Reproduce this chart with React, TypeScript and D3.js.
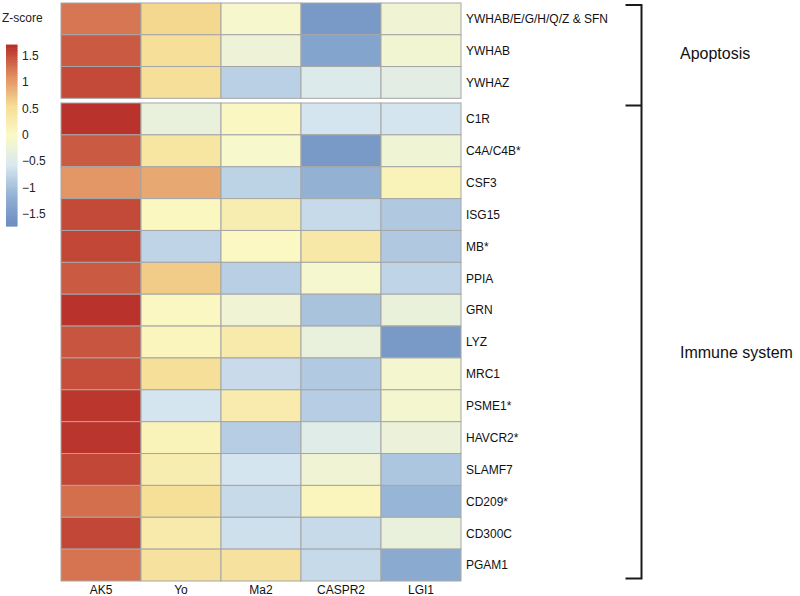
import React from "react";
import * as d3 from "d3";

const genes = [
  "YWHAB/E/G/H/Q/Z & SFN", "YWHAB", "YWHAZ",
  "C1R", "C4A/C4B*", "CSF3", "ISG15", "MB*", "PPIA", "GRN", "LYZ", "MRC1",
  "PSME1*", "HAVCR2*", "SLAMF7", "CD209*", "CD300C", "PGAM1",
];
const antibodies = ["AK5", "Yo", "Ma2", "CASPR2", "LGI1"];

const ak5Values = [1.26, 1.43, 1.53, 1.68, 1.43, 1.05, 1.53, 1.55, 1.43, 1.68, 1.46, 1.5, 1.65, 1.66, 1.55, 1.3, 1.55, 1.27];
const yoValues = [0.6, 0.5, 0.5, -0.3, 0.4, 0.93, 0.06, -0.78, 0.68, 0.05, 0.1, 0.5, -0.6, 0.14, 0.25, 0.52, 0.3, 0.45];
const ma2Values = [-0.08, -0.22, -0.82, 0.05, -0.06, -0.8, 0.25, 0.03, -0.83, -0.18, 0.3, -0.7, 0.28, -0.85, -0.6, -0.72, -0.65, 0.45];
const caspr2Values = [-1.5, -1.35, -0.5, -0.6, -1.5, -1.15, -0.72, 0.35, -0.1, -0.95, -0.3, -0.88, -0.85, -0.45, -0.18, 0.1, -0.72, -0.72];
const lgi1Values = [-0.18, -0.15, -0.4, -0.6, -0.2, 0.15, -0.9, -0.9, -0.78, -0.28, -1.5, -0.12, -0.12, -0.25, -0.92, -1.1, -0.3, -1.25];

const seriesValues = [ak5Values, yoValues, ma2Values, caspr2Values, lgi1Values];

const groups = [
  { name: "Apoptosis", first: 0, last: 2 },
  { name: "Immune system", first: 3, last: 17 },
];

const legendTicks = [1.5, 1, 0.5, 0, -0.5, -1, -1.5];
const colorStopValues = [-1.71, -1.13, -0.57, 0, 0.57, 1.13, 1.69];
const colorStopColors = ["#6a8cc0", "#93b2d4", "#d9e8f1", "#fbfac6", "#f5dc93", "#e08b5e", "#b8302a"];

const color = d3.scaleLinear<string>().domain(colorStopValues).range(colorStopColors).interpolate(d3.interpolateRgb).clamp(true);

const FONT = "'Liberation Sans', Arial, Helvetica, sans-serif";

export default function App() {
  const W = 800, H = 596;
  const left = 61, right = 461;
  const x = d3.scaleBand<string>().domain(antibodies).range([left, right]);
  const y1 = d3.scaleBand<string>().domain(genes.slice(0, 3)).range([3, 98.3]);
  const y2 = d3.scaleBand<string>().domain(genes.slice(3)).range([103, 581]);
  const yOf = (i: number) => (i < 3 ? y1(genes[i])! : y2(genes[i])!);
  const hOf = (i: number) => (i < 3 ? y1.bandwidth() : y2.bandwidth());

  const legendY = d3.scaleLinear().domain([-1.5, 1.5]).range([214, 55.5]);
  const legendSteps = d3.range(0, 100).map((k) => -1.71 + (k / 99) * (1.69 + 1.71));
  const fmt = d3.format("");

  return (
    <svg width={W} height={H} style={{ position: "absolute", left: 0, top: 0, background: "#fff" }} fontFamily={FONT}>
      {/* legend */}
      <text x={2} y={22} fontSize={12} fill="#222">Z-score</text>
      {legendSteps.map((v, k) => {
        const yTop = legendY(v + (3.4 / 99) / 2);
        const yBot = legendY(v - (3.4 / 99) / 2);
        return <rect key={k} x={6} y={yTop} width={11.5} height={yBot - yTop + 0.6} fill={color(v)} />;
      })}
      {legendTicks.map((t) => (
        <text key={t} x={22} y={legendY(t) + 4.3} fontSize={12} fill="#222">{fmt(t)}</text>
      ))}

      {/* heatmap cells */}
      {seriesValues.map((vals, c) =>
        vals.map((v, r) => (
          <rect key={`${c}-${r}`} x={x(antibodies[c])!} y={yOf(r)} width={x.bandwidth()} height={hOf(r)}
            fill={color(v)} stroke="#a6a6a6" strokeWidth={1} />
        ))
      )}

      {/* row labels */}
      {genes.map((g, i) => (
        <text key={g} x={466} y={yOf(i) + hOf(i) / 2 + 4.3} fontSize={12} fill="#111">{g}</text>
      ))}

      {/* column labels */}
      {antibodies.map((a) => (
        <text key={a} x={x(a)! + x.bandwidth() / 2} y={593.5} fontSize={12} textAnchor="middle" fill="#111">{a}</text>
      ))}

      {/* bracket */}
      <path d={`M625.5,5 H641.5 V105.5 H625.5 M641.5,105.5 V578.5 H625.5`} fill="none" stroke="#1a1a1a" strokeWidth={2} />

      {/* group labels */}
      {groups.map((gr, k) => (
        <text key={gr.name} x={680} y={k === 0 ? 59 : 358} fontSize={16} fill="#111">{gr.name}</text>
      ))}
    </svg>
  );
}
